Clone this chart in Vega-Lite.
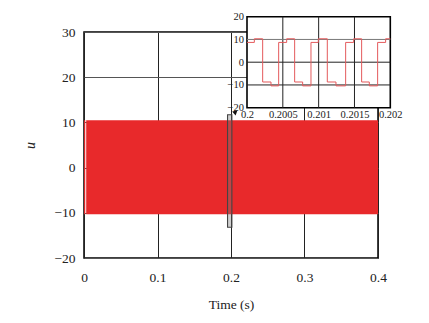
{
  "$schema": "https://vega.github.io/schema/vega-lite/v6.json",
  "width": 294,
  "height": 226,
  "autosize": {"type": "none"},
  "padding": {"left": 84, "top": 32, "right": 51, "bottom": 65},
  "background": "white",
  "config": {
    "view": {"stroke": "black", "strokeWidth": 1.5},
    "font": "Liberation Serif",
    "axis": {"labelFont": "Liberation Serif", "titleFont": "Liberation Serif", "labelColor": "#222", "titleColor": "#222", "titleFontWeight": "normal"}
  },
  "layer": [
    {
      "layer": [
        {
          "data": {"values": [{"t": 0.003, "lo": -10.3, "hi": 10.5}, {"t": 0.4, "lo": -10.3, "hi": 10.5}]},
          "mark": {"type": "area", "color": "#e8292b", "opacity": 1},
          "encoding": {
            "x": {"field": "t", "type": "quantitative", "scale": {"domain": [0, 0.4], "nice": false, "zero": false},
              "axis": {"title": "Time (s)", "orient": "bottom", "values": [0, 0.1, 0.2, 0.3, 0.4], "format": "~g", "labelFontSize": 13.5, "titleFontSize": 13.5, "labelPadding": 12, "titlePadding": 14, "ticks": false, "domain": false, "grid": true, "gridColor": "#222", "gridWidth": 1, "labelFlush": false, "labelOverlap": false}},
            "y": {"field": "hi", "type": "quantitative", "scale": {"domain": [-20, 30], "nice": false, "zero": false},
              "axis": {"title": "u", "titleFontStyle": "italic", "orient": "left", "values": [-20, -10, 0, 10, 20, 30], "labelFontSize": 13.5, "titleFontSize": 14, "labelPadding": 9, "titlePadding": 16, "ticks": false, "domain": false, "grid": true, "gridColor": "#555", "gridWidth": 1, "labelOverlap": false}},
            "y2": {"field": "lo"}
          }
        },
        {
          "data": {"values": [{"t": 0.0009, "lo": -10.3, "hi": 10.5}]},
          "mark": {"type": "rule", "color": "#e8292b", "strokeWidth": 1.2},
          "encoding": {
            "x": {"field": "t", "type": "quantitative"},
            "y": {"field": "hi", "type": "quantitative"},
            "y2": {"field": "lo"}
          }
        },
        {
          "data": {"values": [{"a": 0.1953, "b": 0.2012, "lo": -13.2, "hi": 11.7}]},
          "mark": {"type": "rect", "fill": "#777", "fillOpacity": 0.35, "stroke": "#444", "strokeWidth": 1.1},
          "encoding": {
            "x": {"field": "a", "type": "quantitative"},
            "x2": {"field": "b"},
            "y": {"field": "hi", "type": "quantitative"},
            "y2": {"field": "lo"}
          }
        },
        {
          "data": {"values": [{"t": 0.2055, "v": 12.2}]},
          "mark": {"type": "point", "shape": "triangle", "angle": 50, "size": 28, "filled": true, "color": "#111", "opacity": 1},
          "encoding": {
            "x": {"field": "t", "type": "quantitative"},
            "y": {"field": "v", "type": "quantitative"}
          }
        }
      ]
    },
    {
      "layer": [
        {
          "data": {"values": [{"x1": 0.2, "x2": 0.202, "y1": -20, "y2": 20}]},
          "mark": {"type": "rect", "fill": "white", "stroke": "black", "strokeWidth": 1.6},
          "encoding": {
            "x": {"field": "x1", "type": "quantitative", "scale": {"domain": [0.2, 0.202], "range": [163, 306.3], "nice": false, "zero": false},
              "axis": {"title": null, "orient": "bottom", "offset": -150.3, "values": [0.2, 0.2005, 0.201, 0.2015, 0.202], "format": "~g", "labelFontSize": 10.5, "labelPadding": 2, "ticks": false, "domain": false, "grid": false, "labelFlush": false, "labelOverlap": false, "zindex": 1}},
            "x2": {"field": "x2"},
            "y": {"field": "y1", "type": "quantitative", "scale": {"domain": [-20, 20], "range": [75.7, -15.3], "nice": false, "zero": false},
              "axis": {"title": null, "orient": "left", "offset": -163, "values": [-20, -10, 0, 10, 20], "labelFontSize": 10.5, "labelPadding": 3.5, "ticks": false, "domain": false, "grid": false, "labelOverlap": false, "zindex": 1}},
            "y2": {"field": "y2"}
          }
        },
        {
          "data": {"values": [{"g": 0.2005}, {"g": 0.201}, {"g": 0.2015}]},
          "mark": {"type": "rule", "color": "#222", "strokeWidth": 1},
          "encoding": {
            "x": {"field": "g", "type": "quantitative"},
            "y": {"datum": -20, "type": "quantitative"},
            "y2": {"datum": 20}
          }
        },
        {
          "data": {"values": [{"g": 10, "c": "#777"}, {"g": 0, "c": "#222"}, {"g": -10, "c": "#222"}]},
          "mark": {"type": "rule", "strokeWidth": 1},
          "encoding": {
            "y": {"field": "g", "type": "quantitative"},
            "x": {"datum": 0.2, "type": "quantitative"},
            "x2": {"datum": 0.202},
            "color": {"field": "c", "type": "nominal", "scale": null}
          }
        },
        {
          "data": {"values": [
            {"t": 0.2, "u": 8.7},
            {"t": 0.2001023, "u": 10.3},
            {"t": 0.2002186, "u": -8.7},
            {"t": 0.2003349, "u": -10.4},
            {"t": 0.2004419, "u": 8.7},
            {"t": 0.2005535, "u": 10.3},
            {"t": 0.2006651, "u": -8.7},
            {"t": 0.2007767, "u": -10.4},
            {"t": 0.200893, "u": 8.7},
            {"t": 0.2009953, "u": 10.3},
            {"t": 0.2011209, "u": -8.7},
            {"t": 0.2012419, "u": -10.4},
            {"t": 0.2013767, "u": 8.7},
            {"t": 0.2014884, "u": 10.3},
            {"t": 0.2016, "u": -8.7},
            {"t": 0.201707, "u": -10.4},
            {"t": 0.2018233, "u": 8.7},
            {"t": 0.2019349, "u": 10.3},
            {"t": 0.202, "u": 10.3}
          ]},
          "mark": {"type": "line", "interpolate": "step-after", "color": "#e45a5c", "strokeWidth": 1},
          "encoding": {
            "x": {"field": "t", "type": "quantitative"},
            "y": {"field": "u", "type": "quantitative"}
          }
        }
      ]
    }
  ],
  "resolve": {"scale": {"x": "independent", "y": "independent"}, "axis": {"x": "independent", "y": "independent"}}
}
